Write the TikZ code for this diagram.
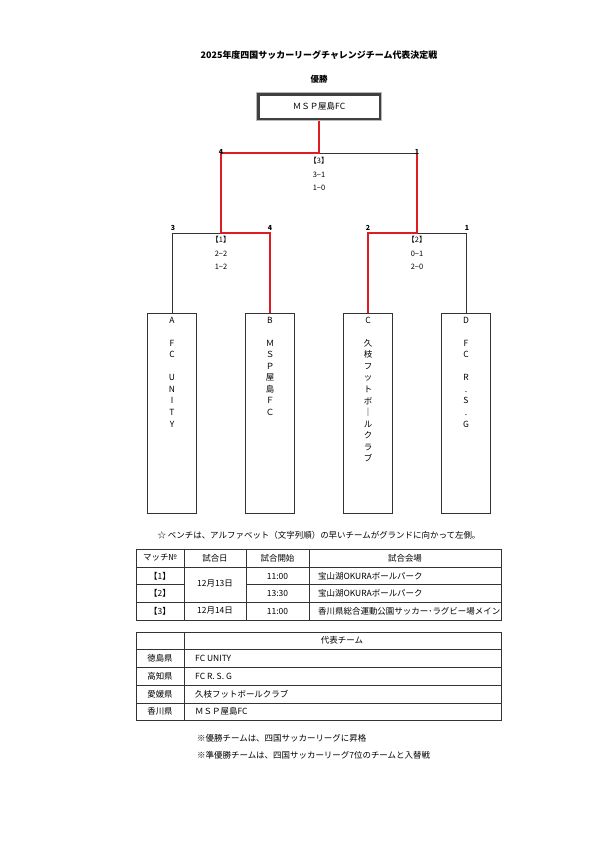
\documentclass[tikz,border=0pt]{standalone}
\usepackage{fontspec}
\setmainfont{Noto Sans CJK JP}
\usetikzlibrary{positioning}
\definecolor{winred}{RGB}{222,28,36}

\begin{document}
\begin{tikzpicture}[
    x=1bp, y=-1bp,
    every node/.style={font=\fontsize{8.5}{10}\selectfont, inner sep=0pt},
    teambox/.style={draw=black!80, line width=0.8bp, minimum width=49bp, minimum height=200bp},
    teamname/.style={anchor=north, align=center, font=\fontsize{8.5}{11.6}\selectfont},
    winbox/.style={draw=black!75, line width=3bp, minimum width=122bp, minimum height=25bp},
    wonline/.style={winred, line width=2.6bp},
    lostline/.style={black!80, line width=0.7bp},
    seed/.style={anchor=south, font=\bfseries\fontsize{7}{8}\selectfont},
    score/.style={font=\fontsize{7.5}{9}\selectfont},
    tabline/.style={black!80, line width=0.7bp}
]
\useasboundingbox (0,0) rectangle (595,841);

% Title
\node[font=\bfseries\fontsize{9}{11}\selectfont] (title) at (319,55) {2025年度四国サッカーリーグチャレンジチーム代表決定戦};
\node[font=\bfseries\fontsize{8.5}{10}\selectfont] (champ) at (319,79) {優勝};
\node[winbox] (win) at (319,106.5) {ＭＳＰ屋島FC};
\draw[gray!55, line width=1bp] (win.north west) rectangle (win.south east);

% Team boxes
\node[teambox] (teamA) at (172,413) {};
\node[teambox] (teamB) at (270,413) {};
\node[teambox] (teamC) at (368,413) {};
\node[teambox] (teamD) at (466,413) {};

\node[teamname] (nameA) at ([yshift=-4bp]teamA.north) {A\\\mbox{}\\F\\C\\\mbox{}\\U\\N\\I\\T\\Y};
\node[teamname] (nameB) at ([yshift=-4bp]teamB.north) {B\\\mbox{}\\Ｍ\\Ｓ\\Ｐ\\屋\\島\\Ｆ\\Ｃ};
\node[teamname] (nameC) at ([yshift=-4bp]teamC.north) {C\\\mbox{}\\久\\枝\\フ\\ッ\\ト\\ボ\\｜\\ル\\ク\\ラ\\ブ};
\node[teamname] (nameD) at ([yshift=-4bp]teamD.north) {D\\\mbox{}\\F\\C\\\mbox{}\\R\\.\\S\\.\\G};

% Bracket corners
\coordinate (final) at (319,153);
\coordinate (finalL) at (221,153);
\coordinate (finalR) at (417,153);
\coordinate (semi1) at (221,233);
\coordinate (semi2) at (417,233);

% Losing lines
\draw[lostline] (final) -- (finalR);
\draw[lostline] (semi1) -| (teamA.north);
\draw[lostline] (semi2) -| (teamD.north);

% Winning lines
\draw[wonline, line join=miter] (win.south) -- (final) -- (finalL) -- (semi1) -| (teamB.north);
\draw[wonline, line join=miter] (finalR) -- (semi2) -| (teamC.north);

% Goals
\node[seed] (gL) at ([yshift=-2bp]finalL) {4};
\node[seed] (gR) at ([yshift=-2bp]finalR) {1};
\node[seed] (gA) at (173,231) {3};
\node[seed] (gB) at (270,231) {4};
\node[seed] (gC) at (368,231) {2};
\node[seed] (gD) at (467,231) {1};

% Match results
\node[score] (m3) at (319,161) {【3】};
\node[score] (m3a) at (319,175) {3−1};
\node[score] (m3b) at (319,188) {1−0};
\node[score] (m1) at (221,240) {【1】};
\node[score] (m1a) at (221,254) {2−2};
\node[score] (m1b) at (221,267) {1−2};
\node[score] (m2) at (417,240) {【2】};
\node[score] (m2a) at (417,254) {0−1};
\node[score] (m2b) at (417,267) {2−0};

% Bench note
\node (bench) at (319,535) {☆ ベンチは、アルファベット（文字列順）の早いチームがグランドに向かって左側。};

% Schedule table
\draw[tabline] (136,549) rectangle (501,620);
\draw[tabline] (136,567) -- (501,567);
\draw[tabline] (136,584) -- (184,584);
\draw[tabline] (246,584) -- (501,584);
\draw[tabline] (136,602) -- (501,602);
\foreach \x in {184,246,309} {
    \draw[tabline] (\x,549) -- (\x,620);
}
\node (h1) at (160,558) {マッチ№};
\node (h2) at (215,558) {試合日};
\node (h3) at (277.5,558) {試合開始};
\node (h4) at (405,558) {試合会場};
\foreach \y/\no/\time in {576/1/11:00, 593/2/13:30, 611/3/11:00} {
    \node at (160,\y) {【\no】};
    \node at (277.5,\y) {\time};
}
\node (d1) at (215,584) {12月13日};
\node (d2) at (215,611) {12月14日};
\node[anchor=west] (v1) at (318,576) {宝山湖OKURAボールパーク};
\node[anchor=west] (v2) at (318,593) {宝山湖OKURAボールパーク};
\node[anchor=west] (v3) at (318,611) {香川県総合運動公園サッカー･ラグビー場メイン};

% Representative table
\draw[tabline] (136,632) rectangle (501,720);
\foreach \y in {649,667,685,703} {
    \draw[tabline] (136,\y) -- (501,\y);
}
\draw[tabline] (184,632) -- (184,720);
\node (rep) at (342,640.5) {代表チーム};
\foreach \y/\pref/\team in {658/徳島県/FC UNITY, 676/高知県/FC R. S. G, 694/愛媛県/久枝フットボールクラブ, 711.5/香川県/ＭＳＰ屋島FC} {
    \node at (160,\y) {\pref};
    \node[anchor=west] at (195,\y) {\team};
}

% Notes
\node[anchor=west] (note1) at (197,738) {※優勝チームは、四国サッカーリーグに昇格};
\node[anchor=west] (note2) at (197,755) {※準優勝チームは、四国サッカーリーグ7位のチームと入替戦};

\end{tikzpicture}
\end{document}
